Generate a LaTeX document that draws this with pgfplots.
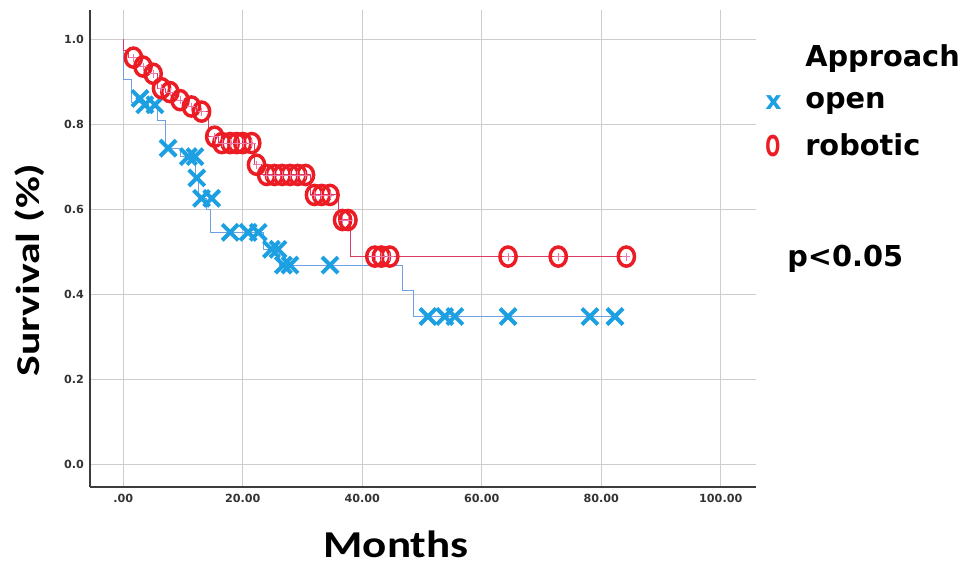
\documentclass[border=0pt]{standalone}
\usepackage{fontspec}
\usepackage{pgfplots}
\usepackage{pgfplotstable}
\usepackage{graphicx}
\pgfplotsset{compat=1.18}
\setmainfont{DejaVu Sans}
\newfontfamily\carlito{Carlito}
\newfontfamily\dvs{DejaVu Sans}
\definecolor{openX}{RGB}{28,160,226}
\definecolor{openL}{RGB}{110,160,230}
\definecolor{robO}{RGB}{236,28,36}
\definecolor{robL}{RGB}{222,60,100}
\definecolor{robP}{RGB}{235,120,170}
\definecolor{gridc}{RGB}{205,205,205}
\definecolor{axisc}{RGB}{60,60,60}

% Kaplan-Meier step lines (value holds until next time)
\pgfplotstableread{
t s
0 1.0
0.05 0.906
1.3 0.852
5.8 0.81
7.0 0.745
9.5 0.725
12.1 0.675
12.6 0.627
14.0 0.60
14.6 0.547
23.5 0.507
26.1 0.470
46.8 0.41
48.5 0.349
82.3 0.349
}\openline
\pgfplotstableread{
t s
2.8 0.862
3.6 0.847
5.3 0.847
7.5 0.745
10.9 0.725
12.0 0.725
12.3 0.675
13.1 0.627
14.8 0.627
17.9 0.547
20.9 0.547
22.6 0.547
24.8 0.507
25.9 0.507
26.8 0.470
27.9 0.470
34.6 0.470
51.0 0.349
53.8 0.349
55.5 0.349
64.4 0.349
78.1 0.349
82.3 0.349
}\openmarks
\pgfplotstableread{
t s
0 1.0
0.05 0.975
0.8 0.958
2.5 0.937
4.2 0.920
5.8 0.886
7.1 0.877
8.7 0.858
10.5 0.843
12.3 0.831
14.3 0.772
15.9 0.757
21.9 0.706
23.1 0.682
31.3 0.635
36.0 0.576
38.0 0.490
84.2 0.490
}\robline
\pgfplotstableread{
t s
1.7 0.958
3.3 0.937
5.0 0.920
6.4 0.886
7.8 0.877
9.5 0.858
11.4 0.843
13.1 0.831
15.3 0.772
16.5 0.757
17.9 0.757
19.0 0.757
20.0 0.757
21.5 0.757
22.3 0.706
24.0 0.682
25.3 0.682
26.6 0.682
27.9 0.682
29.2 0.682
30.5 0.682
32.0 0.635
33.2 0.635
34.6 0.635
36.7 0.576
37.6 0.576
42.1 0.490
43.2 0.490
44.6 0.490
64.4 0.490
72.8 0.490
84.2 0.490
}\robmarks

\begin{document}
\begin{tikzpicture}
\useasboundingbox (0pt,0pt) rectangle (732.75pt,423.75pt);
\begin{axis}[
  at={(67.5pt,58.5pt)}, anchor=south west,
  scale only axis, width=499.5pt, height=357.75pt,
  xmin=-5.57, xmax=105.9, ymin=-0.052, ymax=1.07,
  axis x line*=bottom, axis y line*=left,
  axis line style={-, draw=axisc, line width=1pt},
  xtick={0,20,40,60,80,100},
  xticklabels={.00,20.00,40.00,60.00,80.00,100.00},
  ytick={0,0.2,0.4,0.6,0.8,1.0},
  yticklabels={0.0,0.2,0.4,0.6,0.8,1.0},
  grid=major, major grid style={draw=gridc, line width=0.9pt},
  major tick length=0pt,
  /pgf/number format/assume math mode=true,
  tick label style={font=\dvs\bfseries\fontsize{8.4}{9}\selectfont, text=black!80},
  xticklabel style={yshift=-2pt},
  yticklabel style={xshift=-1pt},
  clip=false,
]
\addplot[const plot, draw=openL, line width=0.8pt] table[x=t,y=s] {\openline};
\addplot[only marks, mark=x, mark size=8.5pt, draw=openX, line width=3pt] table[x=t,y=s] {\openmarks};
\addplot[const plot, draw=robL, line width=0.8pt] table[x=t,y=s] {\robline};
\addplot[only marks, mark=o, mark size=6.1pt, draw=robO, line width=2.6pt, mark options={yscale=1.18}] table[x=t,y=s] {\robmarks};
\addplot[only marks, mark=+, mark size=3pt, draw=robP, line width=0.4pt] table[x=t,y=s] {\robmarks};
\end{axis}
\begin{scope}[x=0.75pt,y=0.75pt]
% axis titles
\node[anchor=base] at (396,8) {\resizebox{108.75pt}{\height}{\carlito\bfseries\fontsize{28.5}{30}\selectfont Months}};
\node[anchor=base, rotate=90] at (39,295) {\resizebox{159.75pt}{\height}{\carlito\bfseries\fontsize{25}{26}\selectfont Survival (\%)}};
% legend
\node[anchor=base west, inner sep=0pt] at (805,498.3) {\dvs\bfseries\fontsize{21.6}{24}\selectfont Approach};
\node[anchor=base west, inner sep=0pt] at (805,456) {\dvs\bfseries\fontsize{21.6}{24}\selectfont open};
\node[anchor=base west, inner sep=0pt] at (805,409.5) {\dvs\bfseries\fontsize{21.6}{24}\selectfont robotic};
\node[anchor=base west, inner sep=0pt, text=openX] at (765,455) {\dvs\bfseries\fontsize{19}{24}\selectfont x};
\node[anchor=base west, inner sep=0pt, text=robO] at (765,408.5) {\resizebox{11.25pt}{\height}{\dvs\bfseries\fontsize{21.6}{24}\selectfont O}};
\node[anchor=base west, inner sep=0pt] at (787,298.3) {\dvs\bfseries\fontsize{21.6}{24}\selectfont p<0.05};
\end{scope}
\end{tikzpicture}
\end{document}
